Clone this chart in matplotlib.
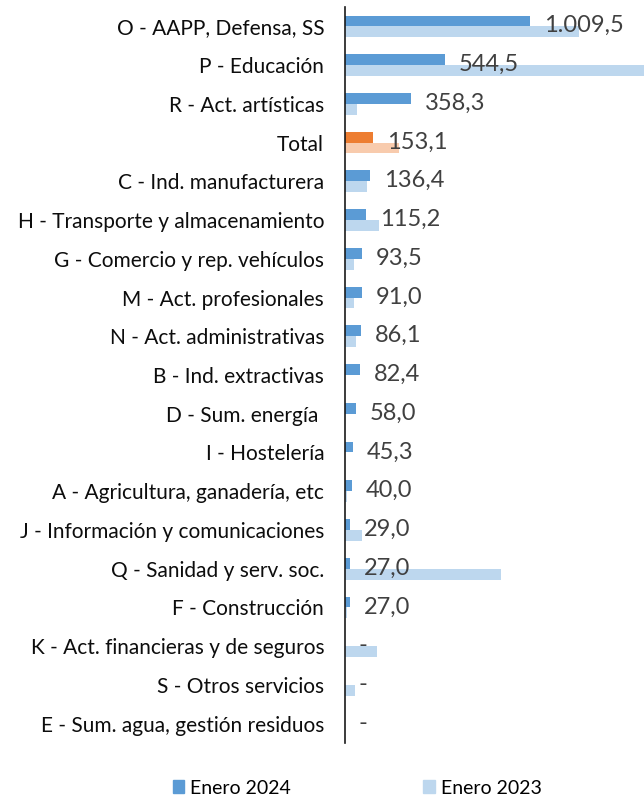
import numpy as np
import matplotlib.pyplot as plt
from matplotlib.patches import Patch

categories = ['O - AAPP, Defensa, SS', 'P - Educación', 'R - Act. artísticas', 'Total',
              'C - Ind. manufacturera', 'H - Transporte y almacenamiento',
              'G - Comercio y rep. vehículos', 'M - Act. profesionales',
              'N - Act. administrativas', 'B - Ind. extractivas', 'D - Sum. energía ',
              'I - Hostelería', 'A - Agricultura, ganadería, etc',
              'J - Información y comunicaciones', 'Q - Sanidad y serv. soc.',
              'F - Construcción', 'K - Act. financieras y de seguros',
              'S - Otros servicios', 'E - Sum. agua, gestión residuos']
enero_2024 = [1009.5, 544.5, 358.3, 153.1, 136.4, 115.2, 93.5, 91.0, 86.1, 82.4,
              58.0, 45.3, 40.0, 29.0, 27.0, 27.0, 0, 0, 0]
enero_2023 = [1275, 1700, 64, 295, 118, 185, 49, 49, 58, 0,
              0, 0, 12, 91, 851, 10, 175, 56, 0]

plt.rcParams['font.family'] = ['Lato', 'DejaVu Sans']

def fmt(v):
    if v == 0:
        return '-'
    s = f'{v:,.1f}'
    return s.replace(',', 'X').replace('.', ',').replace('X', '.')

c24 = ['#ED7D31' if c == 'Total' else '#5B9BD5' for c in categories]
c23 = ['#F8CBAD' if c == 'Total' else '#BDD7EE' for c in categories]

fig = plt.figure(figsize=(6.44, 7.95), dpi=100)
ax = fig.add_axes([345 / 644, 1 - 743 / 795, 1 - 345 / 644, 736 / 795])

y = np.arange(len(categories))
h = 0.28
ax.barh(y - h / 2, enero_2024, height=h, color=c24, label='Enero 2024')
ax.barh(y + h / 2, enero_2023, height=h, color=c23, label='Enero 2023')

# etiquetas de valor (solo enero 2024)
for yi, v in zip(y, enero_2024):
    ax.annotate(fmt(v), xy=(v, yi - h / 2), xytext=(10, -3.5), textcoords='offset points',
                ha='left', va='center', fontsize=17, color='#404040')

ax.set_xlim(0, 1630)
ax.set_ylim(len(categories) - 0.5, -0.5)
ax.set_yticks(y)
ax.set_yticklabels(categories, fontsize=15, color='#0d0d0d')
ax.tick_params(axis='y', length=0, pad=15)
ax.set_xticks([])
for s in ['top', 'right', 'bottom']:
    ax.spines[s].set_visible(False)
ax.spines['left'].set_color('#1a1a1a')
ax.spines['left'].set_linewidth(1.2)

handles = [Patch(color='#5B9BD5'), Patch(color='#BDD7EE')]
fig.legend(handles, ['Enero 2024', 'Enero 2023'], loc='center',
           bbox_to_anchor=(357 / 644, 1 - 788 / 795), ncol=2, frameon=False,
           fontsize=14, handlelength=0.6, handleheight=0.6, handletextpad=0.3,
           columnspacing=6.8)

fig.savefig('out.png', dpi=100)
